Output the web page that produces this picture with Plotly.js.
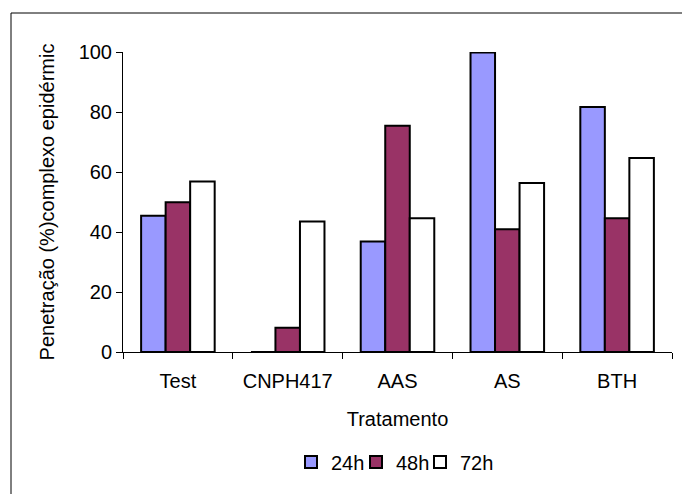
<!DOCTYPE html>
<html>
<head>
<meta charset="utf-8">
<script src="https://cdn.plot.ly/plotly-3.0.1.min.js"></script>
<style>html,body{margin:0;padding:0;background:#fff;}#chart{width:682px;height:494px;}</style>
</head>
<body>
<div id="chart"></div>
<script>
var categories = ['Test', 'CNPH417', 'AAS', 'AS', 'BTH'];
var seriesNames = ['24h', '48h', '72h'];
var values24h = [45.4, 0, 36.8, 99.8, 81.7];
var values48h = [49.9, 8.1, 75.4, 40.9, 44.6];
var values72h = [56.8, 43.5, 44.6, 56.3, 64.7];
var colors = ['#9999FF', '#993366', '#FFFFFF'];
var yTickVals = [0, 20, 40, 60, 80, 100];
var xTitle = 'Tratamento';
var yTitle = 'Penetração (%)complexo epidérmic';

var font = {family: 'Liberation Sans, Arial, sans-serif', size: 20, color: '#000'};
var allValues = [values24h, values48h, values72h];
var legendIds = ['legend', 'legend2', 'legend3'];
var legendBoxLeft = [305, 370, 434];
var traces = allValues.map(function (v, i) {
  return {
    type: 'bar', x: categories, y: v, name: seriesNames[i], legend: legendIds[i],
    marker: {color: colors[i], line: {color: '#000', width: 2}},
    hoverinfo: 'x+y+name'
  };
});

var layout = {
  width: 682, height: 494,
  margin: {l: 123, r: 10, t: 52, b: 142, pad: 0},
  paper_bgcolor: '#fff', plot_bgcolor: '#fff',
  font: font,
  barmode: 'group', bargap: 0.33, bargroupgap: 0,
  showlegend: true,
  xaxis: {
    type: 'category', showline: true, linecolor: '#000', linewidth: 1,
    ticks: 'outside', tickson: 'boundaries', ticklen: 6, tickcolor: '#000', tickwidth: 1,
    showgrid: false, zeroline: false, tickfont: font, ticklabelstandoff: 11,
    title: {text: xTitle, font: font, standoff: 20}
  },
  yaxis: {
    range: [0, 100], tickvals: yTickVals, showline: true, linecolor: '#000', linewidth: 1,
    ticks: 'outside', ticklen: 6, tickcolor: '#000', tickwidth: 1,
    showgrid: false, zeroline: false, tickfont: font,
    title: {text: yTitle, font: font, standoff: 18}
  },
  shapes: [{
    type: 'rect', xref: 'paper', yref: 'paper',
    x0: (11 - 123) / 549, x1: 1.2, y0: -0.7, y1: (352 - 13) / 300,
    line: {color: '#000', width: 1}, fillcolor: 'rgba(0,0,0,0)', layer: 'below'
  }]
};
legendIds.forEach(function (id, i) {
  layout[id] = {
    orientation: 'h', x: (legendBoxLeft[i] - 14 - 123) / 549, xanchor: 'left',
    y: -0.367, yanchor: 'middle', font: font, itemwidth: 30,
    bgcolor: 'rgba(0,0,0,0)'
  };
});

Plotly.newPlot('chart', traces, layout, {displayModeBar: false, staticPlot: true});
</script>
</body>
</html>
